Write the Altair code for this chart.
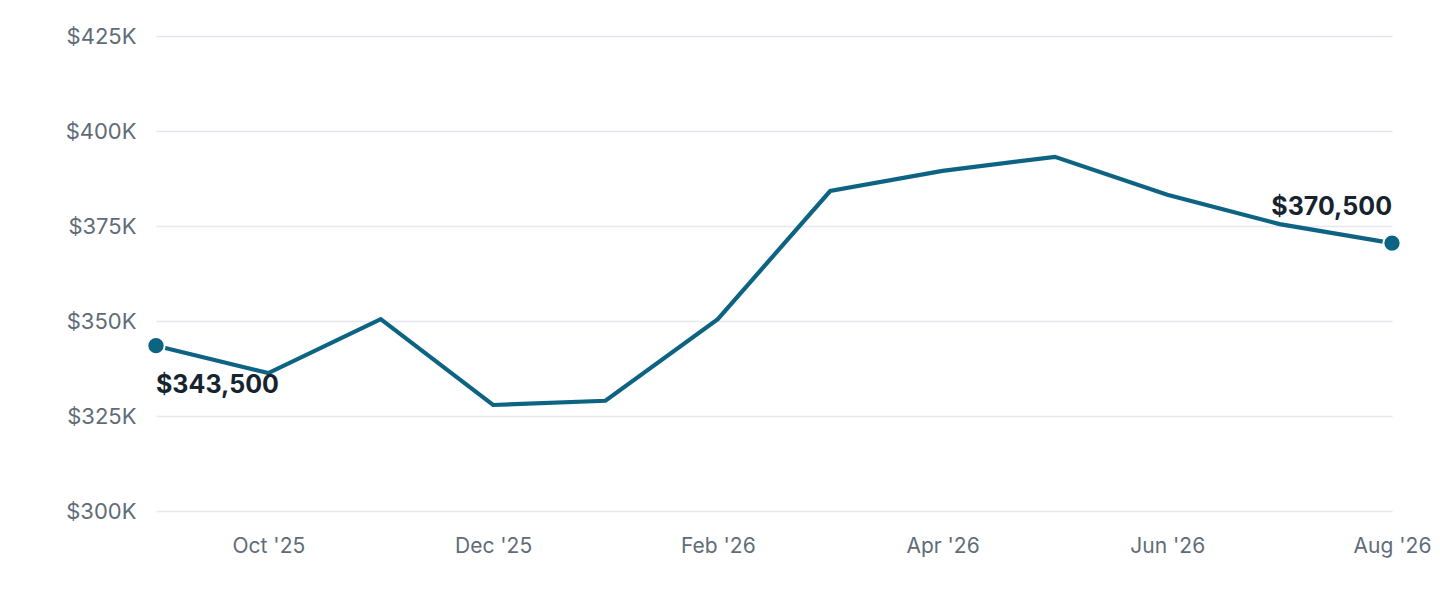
import pandas as pd
import altair as alt

# monthly values
months = ["Sep '25", "Oct '25", "Nov '25", "Dec '25", "Jan '26", "Feb '26",
          "Mar '26", "Apr '26", "May '26", "Jun '26", "Jul '26", "Aug '26"]
prices = [343500, 336300, 350500, 327900, 329000, 350500,
          384200, 389500, 393200, 383200, 375500, 370500]
shown_months = ["Oct '25", "Dec '25", "Feb '26", "Apr '26", "Jun '26", "Aug '26"]
y_ticks = [300000, 325000, 350000, 375000, 400000, 425000]

df = pd.DataFrame({"month": months, "price": prices})
df["label"] = df["price"].map(lambda v: "${:,}".format(v))

line_color = "#0d6482"

x = alt.X("month:O", sort=months, scale=alt.Scale(type="point", padding=0),
          axis=alt.Axis(values=shown_months, title=None, labelAngle=0, ticks=False,
                        domain=False, grid=False, labelPadding=24, labelFontSize=21,
                        labelColor="#5f6c78", labelFont="Inter"))
y = alt.Y("price:Q", scale=alt.Scale(domain=[300000, 425000], zero=False),
          axis=alt.Axis(values=y_ticks, title=None, ticks=False, domain=False,
                        labelExpr="'$' + datum.value / 1000 + 'K'", labelPadding=20,
                        labelFontSize=22, labelColor="#5f6c78", labelFont="Inter",
                        gridColor="#e5e8ed", gridWidth=1.5))

base = alt.Chart(df).encode(x=x, y=y)

line = base.mark_line(color=line_color, strokeWidth=4.2)

ends = base.mark_point(filled=True, color=line_color, size=300, opacity=1,
                       stroke="white", strokeWidth=2, strokeOpacity=1).transform_filter(
    alt.FieldOneOfPredicate(field="month", oneOf=[months[0], months[-1]]))

first_label = base.mark_text(align="left", baseline="middle", dx=0, dy=39,
                             fontSize=25, fontWeight="bold", color="#17232e",
                             font="Inter").encode(text="label:N").transform_filter(
    alt.datum.month == months[0])

last_label = base.mark_text(align="right", baseline="middle", dx=0, dy=-36,
                            fontSize=25, fontWeight="bold", color="#17232e",
                            font="Inter").encode(text="label:N").transform_filter(
    alt.datum.month == months[-1])

chart = alt.layer(line, ends, first_label, last_label).properties(
    width=1236, height=475,
    autosize=alt.AutoSizeParams(type="none"),
    padding={"left": 148, "top": 28, "right": 40, "bottom": 60},
    background="white",
).configure_view(strokeWidth=0, stroke=None)

chart.save("out.html", embed_options={"renderer": "svg", "actions": False})
